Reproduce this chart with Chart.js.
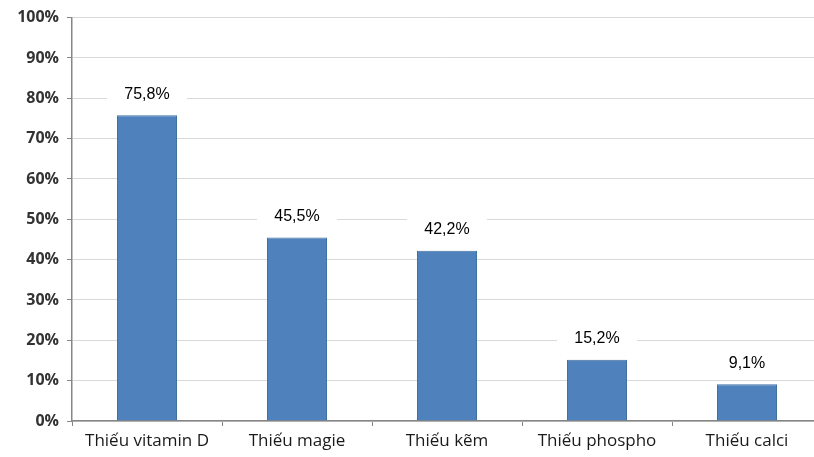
<!DOCTYPE html>
<html>
<head>
<meta charset="utf-8">
<script src="https://cdn.jsdelivr.net/npm/chart.js@4/dist/chart.umd.min.js"></script>
<style>
  html, body { margin: 0; padding: 0; background: #fff; overflow: hidden; }
  #wrap { width: 830px; height: 457px; position: relative; }
</style>
</head>
<body>
<div id="wrap"><canvas id="mycanvas"></canvas></div>
<script>
// data
var categories = ['Thiếu vitamin D', 'Thiếu magie', 'Thiếu kẽm', 'Thiếu phospho', 'Thiếu calci'];
var values = [75.8, 45.5, 42.2, 15.2, 9.1];
var yTicks = [0, 10, 20, 30, 40, 50, 60, 70, 80, 90, 100];

// labels above the bars, on a white box
var barLabels = {
    id: 'barLabels',
    afterDatasetsDraw: function(chart) {
        var ctx = chart.ctx;
        var meta = chart.getDatasetMeta(0);
        ctx.save();
        ctx.font = '16px "Liberation Sans", Arial, sans-serif';
        ctx.textAlign = 'center';
        ctx.textBaseline = 'middle';
        meta.data.forEach(function(bar, i) {
            var txt = values[i].toFixed(1).replace('.', ',') + '%';
            var cy = bar.y - 22;
            ctx.fillStyle = '#ffffff';
            ctx.fillRect(bar.x - 40, cy - 13, 80, 26);
            ctx.fillStyle = '#000000';
            ctx.fillText(txt, bar.x, cy + 1);
        });
        ctx.restore();
    }
};

var chartdata = {
    labels: categories,
    datasets: [{
        data: values,
        backgroundColor: '#4f81bd',
        borderColor: '#41719f',
        borderWidth: 1,
        barPercentage: 0.4,
        categoryPercentage: 1.0
    }]
};

var ctx = document.getElementById('mycanvas');
var barGraph = new Chart(ctx, {
    type: 'bar',
    data: chartdata,
    plugins: [barLabels],
    options: {
        responsive: true,
        maintainAspectRatio: false,
        animation: false,
        layout: { padding: { top: 17, right: 8, left: 0, bottom: 0 } },
        plugins: {
            legend: { display: false },
            tooltip: { enabled: false }
        },
        scales: {
            x: {
                grid: {
                    offset: true,
                    drawOnChartArea: false,
                    drawTicks: true,
                    tickLength: 5,
                    color: '#868686'
                },
                border: { color: '#868686', width: 1.5 },
                ticks: {
                    color: '#1a1a1a',
                    font: { family: '"Open Sans", sans-serif', size: 17 },
                    padding: 5,
                    maxRotation: 0
                },
                afterFit: function(scale) { scale.height = 36; }
            },
            y: {
                min: 0,
                max: 100,
                afterBuildTicks: function(scale) {
                    scale.ticks = yTicks.map(function(v) { return { value: v }; });
                },
                grid: {
                    color: '#d9d9d9',
                    tickLength: 5,
                    tickColor: '#868686'
                },
                border: { color: '#868686', width: 1.5 },
                ticks: {
                    color: '#333333',
                    font: { family: '"Open Sans", sans-serif', size: 16, weight: 'bold' },
                    padding: 8,
                    callback: function(v) { return v + '%'; }
                },
                afterFit: function(scale) { scale.width = 72; }
            }
        }
    }
});
</script>
</body>
</html>
